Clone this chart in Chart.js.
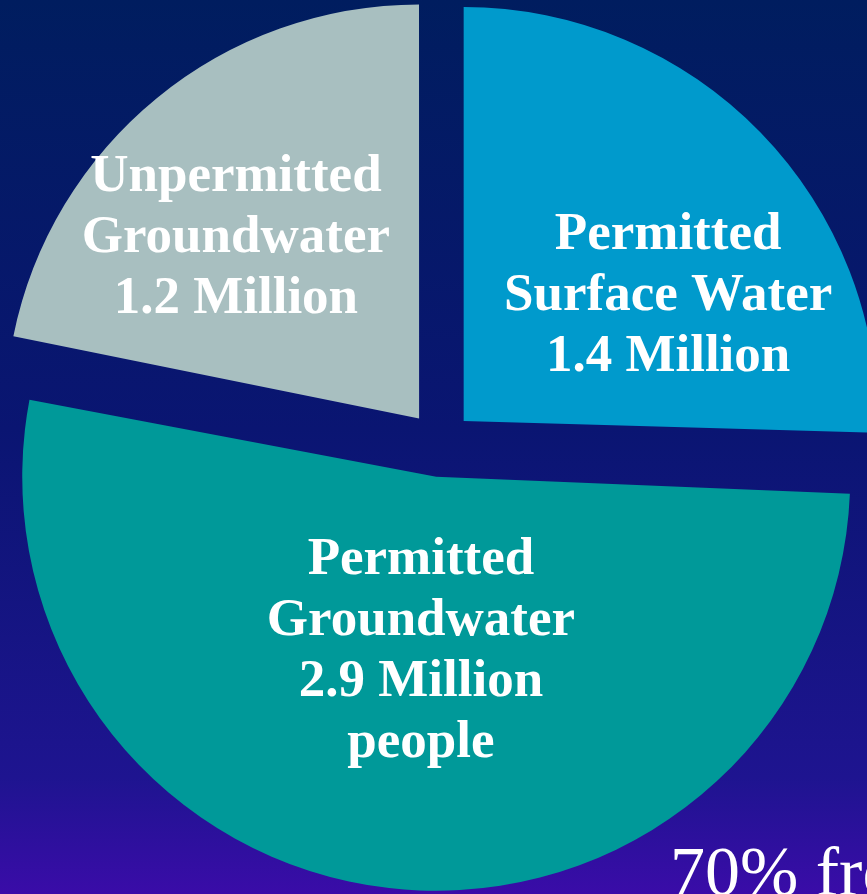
<!DOCTYPE html>
<html>
<head>
<meta charset="utf-8">
<script src="https://cdn.jsdelivr.net/npm/chart.js@4"></script>
<style>
  html, body { margin: 0; padding: 0; overflow: hidden; }
  body {
    width: 867px; height: 894px;
    background: linear-gradient(to bottom, #001d5f 0%, #0a1572 48%, #1e1490 87%, #3a0ca8 100%);
  }
  #wrap { position: absolute; left: 0; top: 0; width: 867px; height: 894px; }
</style>
</head>
<body>
<div id="wrap"><canvas id="myChart"></canvas></div>
<script>
// values (million people)
var categories = ['Permitted Surface Water', 'Permitted Groundwater', 'Unpermitted Groundwater'];
var people = [1.4, 2.9, 1.2];
var sliceLabels = [
  ['Permitted', 'Surface Water', '1.4 Million'],
  ['Permitted', 'Groundwater', '2.9 Million', 'people'],
  ['Unpermitted', 'Groundwater', '1.2 Million']
];
var colores = ['#009acc', '#009999', '#a8bfc0'];

var R = 414;
var OFFSET = 132; // chart.js moves the arc by offset/4
// where each label block sits, as a share of the radius from the pie centre
var labelPos = [[0.551, -0.365], [-0.046, 0.493], [-0.493, -0.505]];

var fixRadius = {
  id: 'fixRadius',
  afterDatasetsUpdate: function(chart) {
    // keep every slice the same size, chart.js grows the big one by its offset
    chart.getDatasetMeta(0).data.forEach(function(arc) {
      var fix = 1 - Math.sin(Math.min(Math.PI, arc.circumference));
      arc.outerRadius = R - (OFFSET / 4) * fix;
    });
  }
};

var textos = {
  id: 'textos',
  afterDraw: function(chart) {
    var ctx = chart.ctx;
    var arcs = chart.getDatasetMeta(0).data;
    ctx.save();
    ctx.fillStyle = '#ffffff';
    ctx.textAlign = 'center';
    ctx.textBaseline = 'alphabetic';
    ctx.font = 'bold 53px "Liberation Serif", "Times New Roman", serif';
    var capHalf = 17.5;
    arcs.forEach(function(arc, i) {
      var lines = sliceLabels[i];
      var cx = arc.x + labelPos[i][0] * R;
      var cy = arc.y + labelPos[i][1] * R;
      var lh = 61;
      var y0 = cy - (lines.length - 1) * lh / 2 + capHalf;
      lines.forEach(function(t, j) {
        ctx.fillText(t, cx, y0 + j * lh);
      });
    });
    ctx.textAlign = 'left';
    ctx.font = '70px "Liberation Serif", "Times New Roman", serif';
    ctx.fillText('70% from groundwater', 670, 895);
    ctx.restore();
  }
};

const ctx = document.getElementById('myChart').getContext('2d');
const myChart = new Chart(ctx, {
  type: 'pie',
  data: {
    labels: categories,
    datasets: [{
      data: people,
      backgroundColor: colores,
      borderWidth: 0,
      offset: OFFSET
    }]
  },
  options: {
    responsive: true,
    maintainAspectRatio: false,
    animation: false,
    radius: R,
    layout: { padding: { left: 13, right: 0, top: 0, bottom: 6 } },
    plugins: {
      legend: { display: false },
      tooltip: { enabled: false }
    }
  },
  plugins: [fixRadius, textos]
});
</script>
</body>
</html>
